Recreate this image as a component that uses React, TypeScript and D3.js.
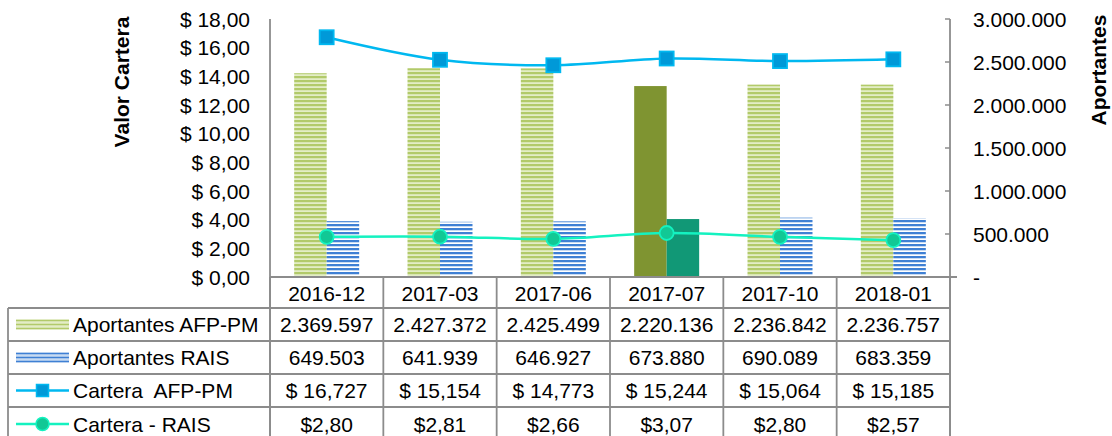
import * as d3 from "d3";

const categories = ["2016-12", "2017-03", "2017-06", "2017-07", "2017-10", "2018-01"];
const aportantesAfp = [2369597, 2427372, 2425499, 2220136, 2236842, 2236757];
const aportantesRais = [649503, 641939, 646927, 673880, 690089, 683359];
const carteraAfp = [16.727, 15.154, 14.773, 15.244, 15.064, 15.185];
const carteraRais = [2.8, 2.81, 2.66, 3.07, 2.8, 2.57];
const highlighted = ["2017-07"];

const leftTicks = [0, 2, 4, 6, 8, 10, 12, 14, 16, 18];
const rightTicks = [0, 500000, 1000000, 1500000, 2000000, 2500000, 3000000];

const rowLabels = ["Aportantes AFP-PM", "Aportantes RAIS", "Cartera  AFP-PM", "Cartera - RAIS"];

const W = 1112;
const H = 436;
const left = 270;
const right = 950;
const top = 19;
const bottom = 277;
const tableLeft = 8;
const rowLines = [308, 341, 374, 407, 441];

const FONT = "'Liberation Sans', Arial, sans-serif";
const FS = 21;
const GRID = "#8c8c8c";

const C = {
  green: "#b2ca6a",
  greenLight: "#e3edc6",
  blue: "#3f80d4",
  blueLight: "#c8dbf2",
  olive: "#7f9431",
  teal: "#119876",
  afpLine: "#00b8f0",
  afpFill: "#0099d8",
  raisLine: "#14f2c0",
  raisFill: "#12c895",
};

// number formatting in es-CO style
const thousands = (v: number) => d3.format(",")(v).replace(/,/g, ".");
const fmtLeft = (v: number) => "$ " + v.toFixed(2).replace(".", ",");
const fmtRight = (v: number) => (v === 0 ? "-" : thousands(v));
const fmtAfp = (v: number) => "$ " + v.toFixed(3).replace(".", ",");
const fmtRais = (v: number) => "$" + v.toFixed(2).replace(".", ",");

export default function App() {
  const x = d3.scaleBand<string>().domain(categories).range([left, right]);
  const sub = d3
    .scaleBand<string>()
    .domain(["afp", "rais"])
    .range([0, x.bandwidth()])
    .paddingOuter(0.744);
  const yL = d3.scaleLinear().domain([0, 18]).range([bottom, top]);
  const yR = d3.scaleLinear().domain([0, 3000000]).range([bottom, top]);
  const cx = (c: string) => (x(c) ?? 0) + x.bandwidth() / 2;

  const line = d3
    .line<number>()
    .x((_, i) => cx(categories[i]))
    .y((d) => yL(d))
    .curve(d3.curveCatmullRom.alpha(0.5));

  const tableRows = [
    aportantesAfp.map(thousands),
    aportantesRais.map(thousands),
    carteraAfp.map(fmtAfp),
    carteraRais.map(fmtRais),
  ];

  const colEdges = [left, ...categories.map((c) => (x(c) ?? 0) + x.bandwidth())];

  const legendKey = (i: number, y: number) => {
    const x0 = 16;
    const x1 = 69;
    if (i === 0 || i === 1) {
      const dark = i === 0 ? C.green : C.blue;
      const light = i === 0 ? C.greenLight : C.blueLight;
      return (
        <g>
          <rect x={x0} y={y - 5} width={x1 - x0} height={10} fill={light} />
          {[-4, 0, 4].map((o) => (
            <line key={o} x1={x0} x2={x1} y1={y + o} y2={y + o} stroke={dark} strokeWidth={1.6} />
          ))}
        </g>
      );
    }
    const mid = (x0 + x1) / 2;
    if (i === 2) {
      return (
        <g>
          <line x1={x0} x2={x1} y1={y} y2={y} stroke={C.afpLine} strokeWidth={2.5} />
          <rect x={mid - 6} y={y - 6} width={12} height={12} fill={C.afpFill} stroke={C.afpLine} strokeWidth={1.5} />
        </g>
      );
    }
    return (
      <g>
        <line x1={x0} x2={x1} y1={y} y2={y} stroke={C.raisLine} strokeWidth={2.5} />
        <circle cx={mid} cy={y} r={6.5} fill={C.raisFill} stroke={C.raisLine} strokeWidth={1.5} />
      </g>
    );
  };

  return (
    <svg
      width={W}
      height={H}
      style={{ position: "absolute", left: 0, top: 0, background: "#fff" }}
      fontFamily={FONT}
      fontSize={FS}
    >
      <defs>
        <pattern id="pGreen" width={8} height={4} patternUnits="userSpaceOnUse">
          <rect width={8} height={4} fill={C.greenLight} />
          <rect width={8} height={2.2} fill={C.green} />
        </pattern>
        <pattern id="pBlue" width={8} height={4} patternUnits="userSpaceOnUse">
          <rect width={8} height={4} fill={C.blueLight} />
          <rect y={3} width={8} height={1} fill="#ffffff" />
          <rect width={8} height={2} fill={C.blue} />
        </pattern>
      </defs>

      {/* bars */}
      {categories.map((c, i) => {
        const hi = highlighted.includes(c);
        const bx = x(c) ?? 0;
        return (
          <g key={c}>
            <rect
              x={bx + (sub("afp") ?? 0)}
              y={yR(aportantesAfp[i])}
              width={sub.bandwidth()}
              height={bottom - yR(aportantesAfp[i])}
              fill={hi ? C.olive : "url(#pGreen)"}
            />
            <rect
              x={bx + (sub("rais") ?? 0)}
              y={yR(aportantesRais[i])}
              width={sub.bandwidth()}
              height={bottom - yR(aportantesRais[i])}
              fill={hi ? C.teal : "url(#pBlue)"}
            />
          </g>
        );
      })}

      {/* lines */}
      <path d={line(carteraAfp) ?? ""} fill="none" stroke={C.afpLine} strokeWidth={2.5} />
      <path d={line(carteraRais) ?? ""} fill="none" stroke={C.raisLine} strokeWidth={2.5} />
      {carteraAfp.map((v, i) => (
        <rect
          key={"a" + i}
          x={cx(categories[i]) - 7}
          y={yL(v) - 7}
          width={14}
          height={14}
          fill={C.afpFill}
          stroke={C.afpLine}
          strokeWidth={1.8}
        />
      ))}
      {carteraRais.map((v, i) => (
        <circle
          key={"r" + i}
          cx={cx(categories[i])}
          cy={yL(v)}
          r={7}
          fill={C.raisFill}
          stroke={C.raisLine}
          strokeWidth={1.8}
        />
      ))}

      {/* left axis */}
      <line x1={left} x2={left} y1={top} y2={H} stroke={GRID} strokeWidth={1.8} />
      {leftTicks.map((t) => (
        <text key={t} x={250} y={yL(t)} textAnchor="end" dominantBaseline="central">
          {fmtLeft(t)}
        </text>
      ))}
      <text
        transform={`translate(121,82) rotate(-90)`}
        textAnchor="middle"
        dominantBaseline="central"
        fontWeight="bold"
      >
        Valor Cartera
      </text>

      {/* right axis */}
      <line x1={right} x2={right} y1={top} y2={H} stroke={GRID} strokeWidth={1.8} />
      {rightTicks.map((t) => (
        <g key={t}>
          <line x1={right - 5} x2={right} y1={yR(t)} y2={yR(t)} stroke={GRID} strokeWidth={1.5} />
          <text x={973} y={yR(t)} textAnchor="start" dominantBaseline="central">
            {fmtRight(t)}
          </text>
        </g>
      ))}
      <text
        transform={`translate(1098,70) rotate(-90)`}
        textAnchor="middle"
        dominantBaseline="central"
        fontWeight="bold"
      >
        Aportantes
      </text>

      {/* baseline */}
      <line x1={left} x2={957} y1={bottom} y2={bottom} stroke={GRID} strokeWidth={1.8} />

      {/* data table */}
      {colEdges.map((ex, i) => (
        <line key={"v" + i} x1={ex} x2={ex} y1={bottom} y2={H} stroke={GRID} strokeWidth={1.8} />
      ))}
      <line x1={tableLeft} x2={tableLeft} y1={rowLines[0]} y2={H} stroke={GRID} strokeWidth={1.8} />
      {rowLines.map((ry, i) => (
        <line key={"h" + i} x1={tableLeft} x2={right} y1={ry} y2={ry} stroke={GRID} strokeWidth={1.8} />
      ))}
      {categories.map((c) => (
        <text key={c} x={cx(c)} y={(bottom + rowLines[0]) / 2 + 1} textAnchor="middle" dominantBaseline="central">
          {c}
        </text>
      ))}
      {rowLabels.map((lab, r) => {
        const yc = (rowLines[r] + rowLines[r + 1]) / 2;
        return (
          <g key={lab}>
            {legendKey(r, yc)}
            <text x={73} y={yc} dominantBaseline="central" style={{ whiteSpace: "pre" }}>
              {lab}
            </text>
            {tableRows[r].map((v, i) => (
              <text key={i} x={cx(categories[i])} y={yc} textAnchor="middle" dominantBaseline="central">
                {v}
              </text>
            ))}
          </g>
        );
      })}
    </svg>
  );
}
